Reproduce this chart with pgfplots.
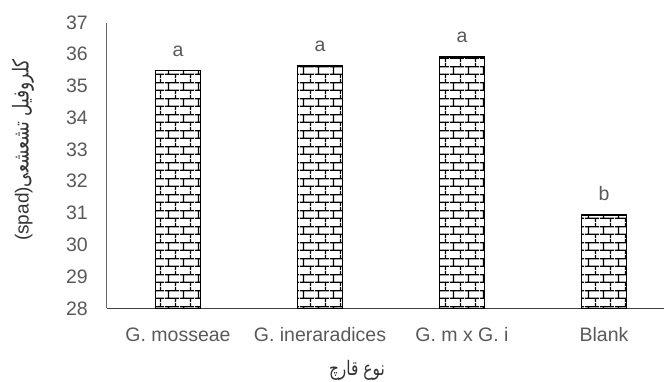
\documentclass[border=0pt]{standalone}
\usepackage{fontspec}
\setmainfont{Liberation Sans}
\newfontfamily\arabicfont[Script=Arabic, FakeStretch=0.77]{DejaVu Sans}
\TeXXeTstate=1
\usepackage{pgfplots}
\pgfplotsset{compat=1.18}
\usetikzlibrary{patterns.meta}
\definecolor{tickgray}{HTML}{595959}
\definecolor{titlegray}{HTML}{333333}

\tikzdeclarepattern{
  name=mybricks,
  type=uncolored,
  bounding box={(0pt,0pt) and (15pt,16pt)},
  tile size={(15pt,16pt)},
  code={
    \draw[line width=1.4pt] (0pt,4pt) -- (15pt,4pt) (0pt,12pt) -- (15pt,12pt)
      (3.75pt,4pt) -- (3.75pt,12pt) (11.25pt,12pt) -- (11.25pt,16pt)
      (11.25pt,0pt) -- (11.25pt,4pt);
  }
}

\begin{document}
\begin{tikzpicture}
\path[use as bounding box] (-107pt,-72.7pt) rectangle (557pt,308.3pt);
\begin{axis}[
  at={(0pt,0pt)}, anchor=south west,
  scale only axis, width=556.6pt, height=285.8pt,
  xmin=-0.5, xmax=3.42, ymin=28, ymax=37,
  axis x line=bottom, axis y line=left,
  x axis line style={-, black!75, line width=1pt},
  y axis line style={-, black!60, line width=1pt},
  xtick={0,1,2,3},
  xticklabels={G. mosseae, G. ineraradices, G. m x G. i, Blank},
  ytick={28,29,...,37},
  major tick length=0pt,
  /pgf/number format/assume math mode=true,
  tick label style={font=\fontsize{19.5}{22}\selectfont, text=tickgray},
  xticklabel style={text height=14pt, text depth=4pt, yshift=-16pt},
  yticklabel style={xshift=-15.7pt},
  xlabel={\arabicfont\beginR نوع قارچ\endR},
  xlabel style={at={(axis description cs:0.449,-0.216)}, anchor=center, font=\fontsize{20}{22}\selectfont, text=titlegray},
  ylabel={{\fontsize{19}{22}\selectfont(spad)}{\arabicfont\fontsize{22}{24}\selectfont\beginR کلروفیل  تشعشعی\endR}},
  ylabel style={at={(axis description cs:-0.151,0.554)}, anchor=center, text=titlegray},
  point meta=explicit symbolic,
  nodes near coords,
  every node near coord/.append style={anchor=south, yshift=10.5pt, font=\fontsize{19.5}{22}\selectfont, text=tickgray},
]
\addplot[ybar, bar width=45.5pt, draw=black, line width=1.4pt, pattern={mybricks}, pattern color=black]
  coordinates {(0,35.48) [a] (1,35.63) [a] (2,35.92) [a] (3,30.94) [b]};
\end{axis}
\end{tikzpicture}
\end{document}
